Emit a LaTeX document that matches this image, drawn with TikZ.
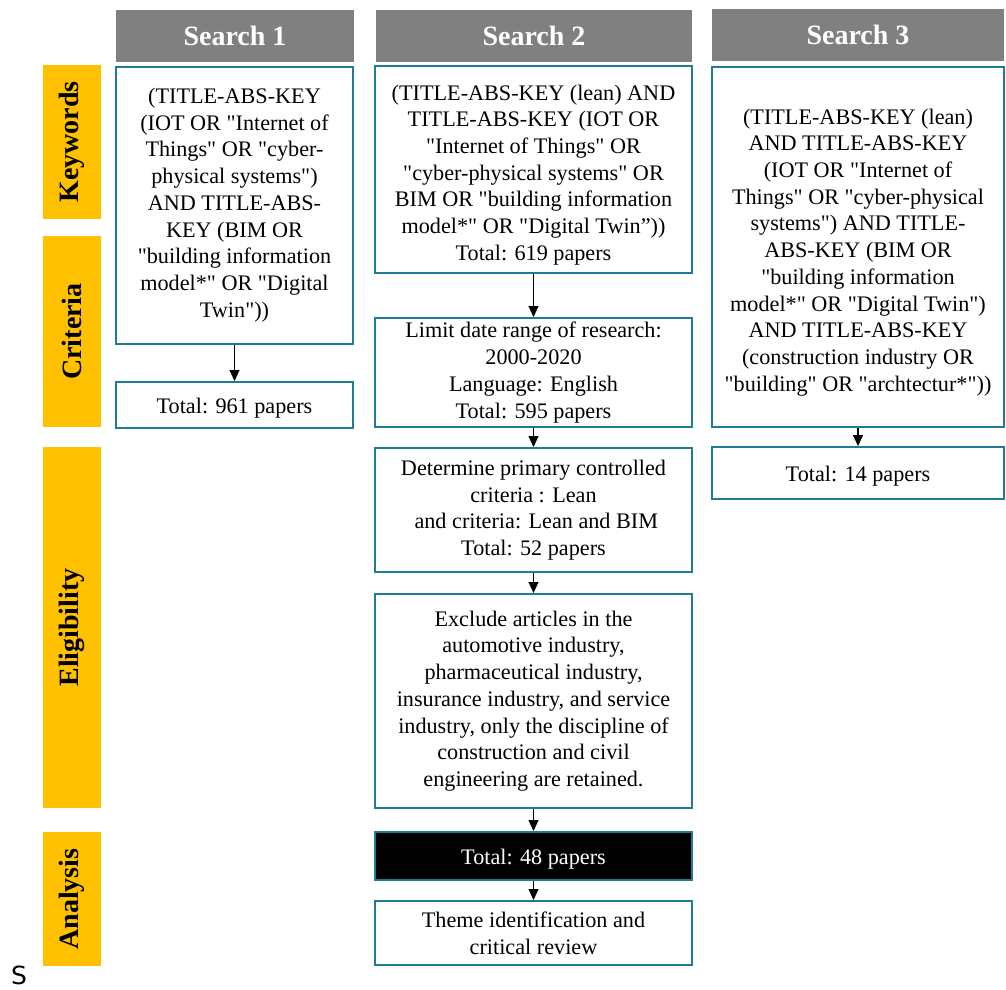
\documentclass[tikz,border=0pt]{standalone}
\usepackage{fontspec}
\setmainfont{Liberation Serif}[Ligatures=TeXOff]
\newfontfamily\labelsans{DejaVu Sans}
\usetikzlibrary{arrows.meta}
\definecolor{hdrgray}{RGB}{128,128,128}
\definecolor{sideyellow}{RGB}{255,192,0}
\definecolor{boxteal}{RGB}{31,123,150}
% taller first line, nudges a text block down inside its box
\newcommand{\tallfirst}{\rule{0pt}{26pt}}
\begin{document}
\begin{tikzpicture}[x=1pt,y=-1pt,
  hdr/.style={fill=hdrgray, text=white, inner sep=0pt,
    font=\bfseries\fontsize{28}{32}\selectfont},
  side/.style={fill=sideyellow, text=black, inner sep=0pt, rotate=90,
    font=\bfseries\fontsize{28}{32}\selectfont},
  stepbox/.style={draw=boxteal, line width=2pt, fill=white, align=center,
    inner sep=0pt, font=\fontsize{22.2}{26.7}\selectfont,
    execute at begin node={\rule{0pt}{21.5pt}}},
  darkbox/.style={stepbox, fill=black, text=white},
  arr/.style={line width=1.1pt, -{Triangle[length=11pt,width=10pt]}}]
\useasboundingbox (0,0) rectangle (1006,989);

% column headers
\node[hdr, minimum width=238, minimum height=52] (h1) at (235,36) {Search 1};
\node[hdr, minimum width=316, minimum height=52] (h2) at (534,36) {Search 2};
\node[hdr, minimum width=292, minimum height=52] (h3) at (858,35) {Search 3};

% stage bars (rotated: width runs along the bar)
\node[side, minimum width=154, minimum height=58] (s1) at (72,142) {Keywords};
\node[side, minimum width=191, minimum height=58] (s2) at (72,331.5) {Criteria};
\node[side, minimum width=361, minimum height=58] (s3) at (72,627.5) {Eligibility};
\node[side, minimum width=134, minimum height=58] (s4) at (72,899) {Analysis};

% search 1
\node[stepbox, minimum width=237, minimum height=277] (a1) at (234.5,205)
  {(TITLE-ABS-KEY\\(IOT OR "Internet of\\Things" OR "cyber-\\physical systems")\\AND TITLE-ABS-\\KEY (BIM OR\\"building information\\model*" OR "Digital\\Twin"))};
\node[stepbox, minimum width=237, minimum height=46] (a2) at (234.5,405)
  {Total: 961 papers};

% search 2
\node[stepbox, minimum width=317, minimum height=207] (b1) at (533.5,169.5)
  {\tallfirst(TITLE-ABS-KEY (lean) AND\\TITLE-ABS-KEY (IOT OR\\"Internet of Things" OR\\"cyber-physical systems" OR\\BIM OR "building information\\model*" OR "Digital Twin”))\\Total: 619 papers};
\node[stepbox, minimum width=317, minimum height=109] (b2) at (533.5,372.5)
  {Limit date range of research:\\2000-2020\\Language: English\\Total: 595 papers};
\node[stepbox, minimum width=317, minimum height=124] (b3) at (533.5,510)
  {Determine primary controlled\\criteria : Lean\\\ and criteria: Lean and BIM\\Total: 52 papers};
\node[stepbox, minimum width=317, minimum height=214] (b4) at (533.5,701)
  {Exclude articles in the\\automotive industry,\\pharmaceutical industry,\\insurance industry, and service\\industry, only the discipline of\\construction and civil\\engineering are retained.};
\node[darkbox, minimum width=317, minimum height=48] (b5) at (533.5,856)
  {Total: 48 papers};
\node[stepbox, minimum width=317, minimum height=64] (b6) at (533.5,933)
  {Theme identification and\\critical review};

% search 3
\node[stepbox, minimum width=292, minimum height=360] (c1) at (858,247)
  {\tallfirst(TITLE-ABS-KEY (lean)\\AND TITLE-ABS-KEY\\(IOT OR "Internet of\\Things" OR "cyber-physical\\systems") AND TITLE-\\ABS-KEY (BIM OR\\"building information\\model*" OR "Digital Twin")\\AND TITLE-ABS-KEY\\(construction industry OR\\"building" OR "archtectur*"))};
\node[stepbox, minimum width=292, minimum height=52] (c2) at (858,473)
  {Total: 14 papers};

% flow arrows
\draw[arr] (a1.south) -- (a2.north);
\draw[arr] (b1.south) -- (b2.north);
\draw[arr] (b2.south) -- (b3.north);
\draw[arr] (b3.south) -- (b4.north);
\draw[arr] (b4.south) -- (b5.north);
\draw[arr] (b5.south) -- (b6.north);
\draw[arr] (c1.south) -- (c2.north);

% stray letter at the lower left
\node[font=\labelsans\fontsize{25}{30}\selectfont, inner sep=0pt, anchor=base] (sl) at (19,984) {S};
\end{tikzpicture}
\end{document}
